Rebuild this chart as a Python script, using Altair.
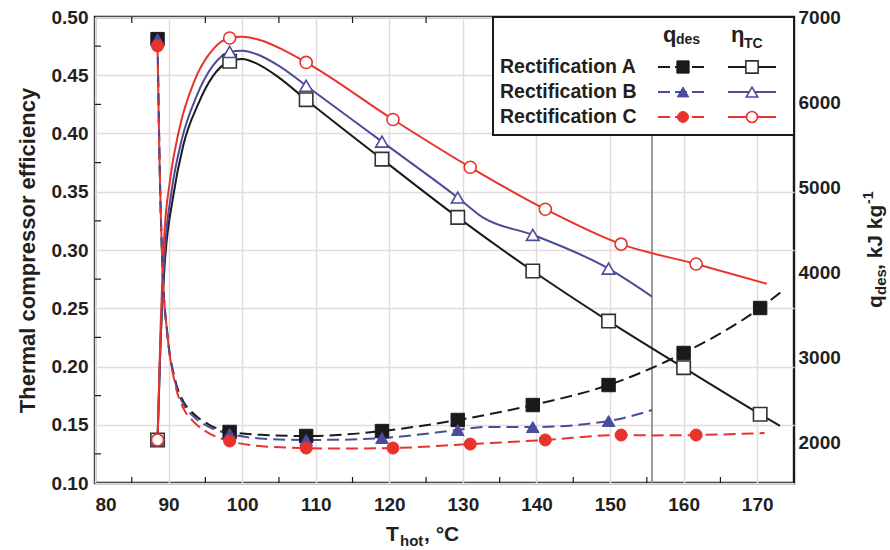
import altair as alt
import pandas as pd

FONT = "Liberation Sans"
BLACK = "#1a1a1a"
BLUE = "#4b4b9b"
RED = "#e8322c"
TXT = "#231f20"

# ---------------- data ----------------
# marker positions
T_A = [88.5, 98.3, 108.7, 119.0, 129.3, 139.5, 149.8, 160.0, 170.4]
eta_A = [0.137, 0.462, 0.429, 0.378, 0.328, 0.282, 0.239, 0.199, 0.159]
q_A = [6740, 2120, 2073, 2131, 2261, 2437, 2672, 3049, 3578]

T_B = [88.5, 98.3, 108.7, 119.0, 129.3, 139.5, 149.8]
eta_B = [0.137, 0.470, 0.441, 0.393, 0.345, 0.313, 0.284]
q_B = [6740, 2100, 2026, 2049, 2143, 2178, 2249]

T_C = [88.5, 98.3, 108.7, 120.5, 131.0, 141.2, 151.5, 161.7]
eta_C = [0.137, 0.482, 0.461, 0.412, 0.371, 0.335, 0.305, 0.288]
q_C = [6660, 2014, 1931, 1931, 1978, 2026, 2084, 2084]

# curves
etaA_T = [88.5, 88.9, 89.5, 90.6, 92.0, 94.0, 96.0, 98.3, 100.0, 102.0, 105.0, 108.7, 119.0, 129.3, 139.5, 149.8, 160.0, 170.4, 173.1]
etaA_v = [0.137, 0.22, 0.29, 0.345, 0.39, 0.425, 0.449, 0.462, 0.464, 0.460, 0.448, 0.429, 0.378, 0.328, 0.282, 0.239, 0.199, 0.159, 0.149]
etaB_T = [88.5, 88.9, 89.5, 90.4, 91.8, 93.8, 96.0, 98.3, 100.0, 102.0, 105.0, 108.7, 119.0, 129.3, 132.7, 139.5, 149.8, 155.7]
etaB_v = [0.137, 0.22, 0.30, 0.35, 0.395, 0.432, 0.458, 0.470, 0.471, 0.468, 0.458, 0.441, 0.393, 0.345, 0.328, 0.313, 0.284, 0.260]
etaC_T = [88.5, 88.9, 89.4, 90.2, 91.5, 93.5, 96.0, 98.3, 100.0, 102.5, 105.5, 108.7, 120.5, 131.0, 141.2, 151.5, 161.7, 171.3]
etaC_v = [0.137, 0.23, 0.31, 0.36, 0.405, 0.445, 0.472, 0.482, 0.483, 0.480, 0.472, 0.461, 0.412, 0.371, 0.335, 0.305, 0.288, 0.271]

qA_T = [88.5, 88.8, 89.2, 89.8, 90.9, 92.0, 93.3, 95.6, 98.3, 103.0, 108.7, 114.0, 119.0, 129.3, 139.5, 149.8, 160.0, 170.4, 173.6]
qA_v = [6740, 5200, 4000, 3300, 2731, 2480, 2343, 2202, 2120, 2085, 2073, 2090, 2131, 2261, 2437, 2672, 3049, 3578, 3790]
qB_T = [88.5, 88.8, 89.2, 89.8, 90.9, 92.0, 93.3, 95.6, 98.3, 103.0, 108.7, 114.0, 119.0, 129.3, 133.0, 139.5, 149.8, 155.7]
qB_v = [6740, 5200, 4000, 3300, 2710, 2450, 2310, 2175, 2100, 2040, 2026, 2030, 2049, 2143, 2180, 2178, 2249, 2378]
qC_T = [88.5, 88.8, 89.2, 89.8, 90.9, 92.0, 93.3, 95.6, 98.3, 103.0, 108.7, 114.0, 120.5, 131.0, 141.2, 151.5, 156.0, 161.7, 171.0]
qC_v = [6660, 5200, 4000, 3300, 2680, 2400, 2250, 2100, 2014, 1950, 1931, 1925, 1931, 1978, 2026, 2084, 2080, 2084, 2108]

cutoff_T = [155.7]
x_ticks = [80, 90, 100, 110, 120, 130, 140, 150, 160, 170]
x_minor = [85, 95, 105, 115, 125, 135, 145, 155, 165, 175]
eta_ticks = [0.10, 0.15, 0.20, 0.25, 0.30, 0.35, 0.40, 0.45, 0.50]
eta_minor = [0.125, 0.175, 0.225, 0.275, 0.325, 0.375, 0.425, 0.475]
q_ticks = [2000, 3000, 4000, 5000, 6000, 7000]

# ---------------- layout ----------------
PL, PT, W, H = 95, 17, 699, 466
GRID = "#e3dada"

xs = alt.Scale(domain=[80, 175], nice=False, zero=False)
ys_eta = alt.Scale(domain=[0.10, 0.50], nice=False, zero=False)
ys_q = alt.Scale(domain=[1520, 7000], nice=False, zero=False)

X_AXIS = alt.Axis(values=x_ticks, grid=True, gridColor=GRID, gridWidth=1.5, domain=False,
                  ticks=False, labelFont=FONT, labelFontSize=19, labelFontWeight="bold",
                  labelColor=TXT, labelPadding=12, format="d", title=None)
ETA_AXIS = alt.Axis(values=eta_ticks, grid=True, gridColor=GRID, gridWidth=1.5, domain=False,
                    ticks=False, format=".2f", labelFont=FONT, labelFontSize=19, labelFontWeight="bold",
                    labelColor=TXT, labelPadding=7, title="Thermal compressor efficiency",
                    titleFont=FONT, titleFontSize=22, titleFontWeight="bold", titleColor=TXT,
                    titlePadding=12)
Q_AXIS = alt.Axis(orient="right", values=q_ticks, grid=False, domain=False, ticks=False,
                  labelFont=FONT, labelFontSize=19, labelFontWeight="bold", labelColor=TXT,
                  labelPadding=4, format="d", title=None)


def X(field="T"):
    return alt.X(f"{field}:Q", scale=xs, axis=X_AXIS, title=None)


def Y(field, which):
    if which == "eta":
        return alt.Y(f"{field}:Q", scale=ys_eta, axis=ETA_AXIS, title="Thermal compressor efficiency")
    return alt.Y(f"{field}:Q", scale=ys_q, axis=Q_AXIS, title=None)


def curve(T, v, which, color, dash=None):
    df = pd.DataFrame({"T": T, "v": v})
    kw = dict(color=color, strokeWidth=2, interpolate="monotone", clip=True)
    if dash:
        kw["strokeDash"] = dash
    return alt.Chart(df).mark_line(**kw).encode(x=X(), y=Y("v", which), order="T:Q")


def markers(T, v, which, shape, color, filled, size):
    df = pd.DataFrame({"T": T, "v": v})
    if filled:
        m = alt.Chart(df).mark_point(shape=shape, filled=True, fill=color, stroke=color,
                                     strokeWidth=1, opacity=1, size=size)
    else:
        m = alt.Chart(df).mark_point(shape=shape, filled=True, fill="white",
                                     stroke=("#333333" if color == BLACK else color),
                                     strokeWidth=1.6, opacity=1, size=size)
    return m.encode(x=X(), y=Y("v", which))


def txt(s, px, py, size=19, angle=0, align="left", baseline="alphabetic", weight="bold"):
    kw = dict(font=FONT, fontSize=size, fontWeight=weight, color=TXT, align=align, baseline=baseline)
    if angle:
        kw["angle"] = angle
    return alt.Chart(pd.DataFrame({"t": [s]})).mark_text(**kw).encode(
        x=alt.value(px - PL), y=alt.value(py - PT), text="t:N")


# inner minor ticks
bot_ticks = alt.Chart(pd.DataFrame({"T": x_minor})).mark_rule(color=BLACK, strokeWidth=1.2).encode(
    x=X(), y=alt.value(H), y2=alt.value(H - 6))
top_ticks = alt.Chart(pd.DataFrame({"T": x_minor})).mark_rule(color=BLACK, strokeWidth=1.2).encode(
    x=X(), y=alt.value(0), y2=alt.value(6))
left_ticks = alt.Chart(pd.DataFrame({"v": eta_minor})).mark_rule(color=BLACK, strokeWidth=1.2).encode(
    y=Y("v", "eta"), x=alt.value(0), x2=alt.value(6))

cut = alt.Chart(pd.DataFrame({"T": cutoff_T})).mark_rule(color="#8c8282", strokeWidth=1.6).encode(x=X())

eta_group = alt.layer(
    left_ticks, bot_ticks, top_ticks, cut,
    curve(etaA_T, etaA_v, "eta", BLACK),
    curve(etaB_T, etaB_v, "eta", BLUE),
    curve(etaC_T, etaC_v, "eta", RED),
    markers(T_A, eta_A, "eta", "square", BLACK, False, 180),
    markers(T_B, eta_B, "eta", "triangle-up", BLUE, False, 160),
    markers(T_C, eta_C, "eta", "circle", RED, False, 145),
)

DASH = [12, 6]
q_group = alt.layer(
    curve(qA_T, qA_v, "q", BLACK, DASH),
    curve(qB_T, qB_v, "q", BLUE, DASH),
    curve(qC_T, qC_v, "q", RED, DASH),
    markers(T_A, q_A, "q", "square", BLACK, True, 180),
    markers(T_B, q_B, "q", "triangle-up", BLUE, True, 160),
    markers(T_C, q_C, "q", "circle", RED, True, 145),
)


# ---------------- legend (drawn) ----------------
def seg(x1, x2, py, color, dash=None):
    kw = dict(color=color, strokeWidth=2)
    if dash:
        kw["strokeDash"] = dash
    return alt.Chart(pd.DataFrame({"a": [0]})).mark_rule(**kw).encode(
        x=alt.value(x1 - PL), x2=alt.value(x2 - PL), y=alt.value(py - PT), y2=alt.value(py - PT))


def lpt(px, py, shape, color, filled, size):
    if filled:
        kw = dict(shape=shape, filled=True, fill=color, stroke=color, strokeWidth=1, opacity=1, size=size)
    else:
        kw = dict(shape=shape, filled=True, fill="white", stroke=("#333333" if color == BLACK else color),
                  strokeWidth=1.6, opacity=1, size=size)
    return alt.Chart(pd.DataFrame({"a": [0]})).mark_point(**kw).encode(
        x=alt.value(px - PL), y=alt.value(py - PT))


legend_box = alt.Chart(pd.DataFrame({"a": [0]})).mark_rect(fill="white", stroke=BLACK, strokeWidth=2).encode(
    x=alt.value(493 - PL), x2=alt.value(794 - PL), y=alt.value(0), y2=alt.value(135 - PT))

rows = [("Rectification A", 67, BLACK, "square", 150),
        ("Rectification B", 92, BLUE, "triangle-up", 130),
        ("Rectification C", 117, RED, "circle", 120)]
legend_layers = [legend_box,
                 txt("q", 663, 42, 22), txt("des", 676, 44, 14),
                 txt("\u03b7", 731, 42, 22), txt("TC", 744, 48, 14)]
for label, py, color, shape, size in rows:
    legend_layers += [txt(label, 500, py, 19.5, baseline="middle"),
                      seg(658, 707, py, color, [12, 5]), lpt(683, py, shape, color, True, size),
                      seg(728, 776, py, color), lpt(752, py, shape, color, False, size)]

# axis titles with sub/superscripts
titles = [
    txt("T", 386, 541, 21), txt("hot", 400, 546, 15), txt(", \u00b0C", 424, 541, 21),
    txt("q", 882, 308, 21, angle=270), txt("des", 886, 295, 15, angle=270),
    txt(", kJ kg", 882, 270, 21, angle=270), txt("-1", 873, 204, 14, angle=270),
]

chart = alt.layer(
    alt.layer(eta_group, q_group).resolve_scale(y="independent"),
    *legend_layers, *titles,
).properties(
    width=W, height=H,
    autosize=alt.AutoSizeParams(type="none"),
    padding={"left": PL, "top": PT, "right": 890 - PL - W, "bottom": 550 - PT - H},
    background="white",
).configure_view(stroke=BLACK, strokeWidth=2.4)

chart.save("out.html", embed_options={"renderer": "svg", "actions": False})
